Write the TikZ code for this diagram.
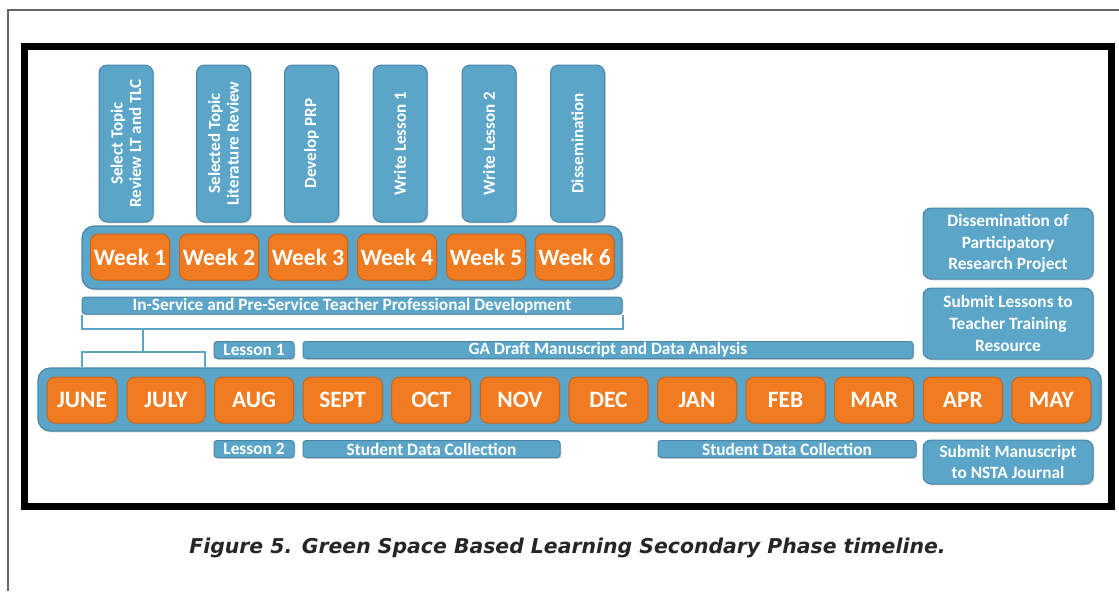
\documentclass[tikz,border=0pt]{standalone}
\usepackage{fontspec}
\setmainfont{Carlito}
\newfontfamily\capfont{DejaVu Sans}
\usetikzlibrary{shadows}
\definecolor{tblue}{HTML}{5BA5C9}
\definecolor{tblueD}{HTML}{4B86A6}
\definecolor{torange}{HTML}{F07B21}
\definecolor{torangeD}{HTML}{C8651B}
\tikzset{
  shad/.style={drop shadow={shadow xshift=0.7pt, shadow yshift=-0.7pt, opacity=0.35}},
  bluebox/.style={shad, fill=tblue, draw=tblueD, line width=0.5pt, rounded corners=4pt, text=white,
    font=\bfseries\fontsize{8.65}{10.8}\selectfont, align=center, inner sep=0pt},
  vbox/.style={bluebox, rotate=90, minimum width=78.5pt, minimum height=27pt,
    font=\bfseries\fontsize{8.5}{9.2}\selectfont},
  bar/.style={bluebox, rounded corners=1.5pt, minimum height=8.5pt},
  rbox/.style={bluebox, minimum width=85pt},
  orbox/.style={shad, fill=torange, draw=torangeD, line width=0.5pt, rounded corners=4pt, text=white,
    font=\bfseries\fontsize{11.7}{13}\selectfont, inner sep=0pt, minimum height=23pt, minimum width=39.5pt},
  container/.style={shad, fill=tblue, draw=tblueD, line width=0.6pt, rounded corners=6pt, minimum height=31.5pt},
  brk/.style={draw=tblue, line width=1pt},
}
\begin{document}
\begin{tikzpicture}[x=0.5pt, y=-0.5pt]
\fill[white] (0,0) rectangle (1119,591);
\useasboundingbox (0,0) rectangle (1119,591);
% outer thin frame
\coordinate (fa) at (8,591);
\coordinate (fb) at (8,10);
\coordinate (fc) at (1119,10);
\draw[black!60, line width=0.6pt] (fa) -- (fb) -- (fc);
% thick black frame
\coordinate (ka) at (24.5,46.5);
\coordinate (kb) at (1111.5,506.5);
\draw[black, line width=3.5pt] (ka) rectangle (kb);

% vertical task boxes
\node[vbox] (v1) at (126,143.5) {Select Topic\\Review LT and TLC};
\node[vbox] (v2) at (223.5,143.5) {Selected Topic\\Literature Review};
\node[vbox] (v3) at (311.5,143.5) {Develop PRP};
\node[vbox] (v4) at (400,143.5) {Write Lesson 1};
\node[vbox] (v5) at (489,143.5) {Write Lesson 2};
\node[vbox] (v6) at (577.5,143.5) {Dissemination};

% week row
\node[container, minimum width=270pt] (wk) at (352,257.5) {};
\node[orbox] (w1) at (130,257) {Week 1};
\node[orbox] (w2) at (219,257) {Week 2};
\node[orbox] (w3) at (308,257) {Week 3};
\node[orbox] (w4) at (397,257) {Week 4};
\node[orbox] (w5) at (486,257) {Week 5};
\node[orbox] (w6) at (574.5,257) {Week 6};

% PD bar and bracket
\node[bar, minimum width=270pt] (pd) at (352,305.5) {In-Service and Pre-Service Teacher Professional Development};
\draw[brk] (pd.south west) -- ++(0,14) -| (pd.south east);
\coordinate (bt) at (143,328);
\coordinate (bb) at (143,352);
\coordinate (c1) at (82,352);
\coordinate (c2) at (205,352);

% right boxes
\node[rbox, minimum height=35.5pt] (dp) at (1008,243.5) {Dissemination of\\Participatory\\Research Project};
\node[rbox, minimum height=35.5pt] (sl) at (1008,323.5) {Submit Lessons to\\Teacher Training\\Resource};

% upper bars
\node[bar, minimum width=40pt] (l1) at (254,350) {Lesson 1};
\node[bar, minimum width=305pt] (ga) at (608,350) {GA Draft Manuscript and Data Analysis};

% month row
\node[container, minimum width=531.5pt] (mc) at (569.5,399.5) {};
\draw[brk] (bt) -- (bb);
\draw[brk] (c1 |- mc.north) -- (c1) -- (c2) -- (c2 |- mc.north);
\node[orbox, minimum width=35pt] (m1) at (82,400) {JUNE};
\node[orbox, minimum width=39pt] (m2) at (166,400) {JULY};
\node[orbox] (m3) at (254,400) {AUG};
\node[orbox] (m4) at (342.6,400) {SEPT};
\node[orbox] (m5) at (431.2,400) {OCT};
\node[orbox] (m6) at (519.8,400) {NOV};
\node[orbox] (m7) at (608.4,400) {DEC};
\node[orbox] (m8) at (697,400) {JAN};
\node[orbox] (m9) at (785.6,400) {FEB};
\node[orbox] (m10) at (874.2,400) {MAR};
\node[orbox] (m11) at (962.8,400) {APR};
\node[orbox] (m12) at (1051.4,400) {MAY};

% lower bars
\node[bar, minimum width=40pt] (l2) at (254,449) {Lesson 2};
\node[bar, minimum width=128.5pt] (sd1) at (431.5,449) {Student Data Collection};
\node[bar, minimum width=129pt] (sd2) at (787,449) {Student Data Collection};
\node[rbox, minimum height=22pt] (sm) at (1008,462) {Submit Manuscript\\to NSTA Journal};

% caption
\node[font=\capfont\bfseries\itshape\fontsize{10.2}{12}\selectfont, text=black!85] (cap) at (567.5,548)
  {Figure 5. Green Space Based Learning Secondary Phase timeline.};
\end{tikzpicture}
\end{document}
